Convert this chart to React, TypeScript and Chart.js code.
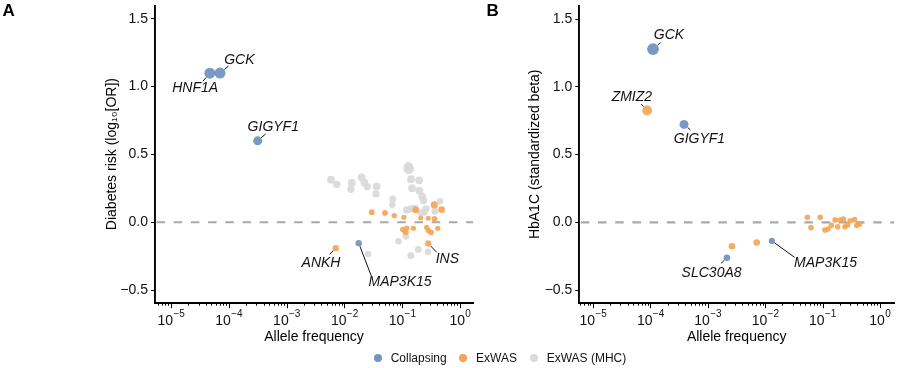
import React, { useEffect, useRef } from 'react';
import { Chart, registerables } from 'chart.js';

Chart.register(...registerables);

const FONT = '"Liberation Sans", Arial, Helvetica, sans-serif';

// ---------- Panel A: Diabetes risk ----------
const A_COLLAPSING_GENES = ['HNF1A', 'GCK', 'GIGYF1', 'MAP3K15'];
const A_COLLAPSING_AF = [4.7e-5, 7.05e-5, 3.16e-4, 0.0177];
const A_COLLAPSING_EFFECT = [1.099, 1.1, 0.6, -0.154];

const A_EXWAS_GENES = ['', '', '', '', '', '', '', '', '', '', '', '', '', '', '', '', '', '', 'INS', 'ANKH'];
const A_EXWAS_AF = [0.0297, 0.0504, 0.0729, 0.107, 0.171, 0.359, 0.482, 0.209, 0.283, 0.362, 0.103, 0.12, 0.115, 0.156, 0.265, 0.283, 0.315, 0.411, 0.283, 0.00708];
const A_EXWAS_EFFECT = [0.074, 0.069, 0.049, 0.037, 0.091, 0.128, 0.093, 0.032, 0.029, 0.025, -0.054, -0.044, -0.074, -0.044, -0.037, -0.061, -0.074, -0.044, -0.157, -0.191];

const A_MHC_AF = [0.00586, 0.00736, 0.0134, 0.013, 0.0199, 0.0221, 0.0249, 0.0362, 0.0352, 0.13, 0.128, 0.142, 0.197, 0.148, 0.198, 0.222, 0.234, 0.0685, 0.0675, 0.451, 0.12, 0.142, 0.166, 0.258, 0.241, 0.369, 0.21, 0.0863, 0.116, 0.19, 0.141, 0.279, 0.0256];
const A_MHC_EFFECT = [0.314, 0.279, 0.29, 0.243, 0.331, 0.294, 0.263, 0.263, 0.209, 0.395, 0.41, 0.318, 0.309, 0.251, 0.233, 0.189, 0.16, 0.172, 0.129, 0.154, 0.091, 0.099, 0.101, 0.099, 0.074, 0.081, 0.07, -0.14, -0.104, -0.201, -0.245, -0.218, -0.234];

// ---------- Panel B: HbA1C ----------
const B_COLLAPSING_GENES = ['GCK', 'GIGYF1', 'SLC30A8', 'MAP3K15'];
const B_COLLAPSING_AF = [1.11e-4, 3.85e-4, 0.00216, 0.0131];
const B_COLLAPSING_EFFECT = [1.279, 0.723, -0.262, -0.137];

const B_EXWAS_GENES = ['ZMIZ2', '', '', '', '', '', '', '', '', '', '', '', '', '', '', '', '', '', ''];
const B_EXWAS_AF = [8.77e-5, 0.00264, 0.00712, 0.0545, 0.063, 0.0912, 0.11, 0.124, 0.143, 0.166, 0.184, 0.202, 0.23, 0.246, 0.274, 0.304, 0.362, 0.396, 0.441];
const B_EXWAS_EFFECT = [0.826, -0.176, -0.149, 0.037, -0.039, 0.037, -0.056, -0.049, -0.022, 0.018, -0.032, 0.018, 0.025, -0.032, -0.017, 0.012, 0.02, -0.024, -0.012];

const B_MHC_AF: number[] = [];
const B_MHC_EFFECT: number[] = [];

// ---------- Marker sizes (style, kept separate from values) ----------
const A_COLLAPSING_RADIUS = [5.5, 5.5, 4.5, 3.2];
const A_EXWAS_RADIUS = [2.9, 2.9, 2.7, 2.6, 3.3, 3.6, 3.3, 2.5, 2.5, 2.9, 2.9, 2.7, 2.9, 2.6, 2.6, 2.7, 2.9, 2.6, 3.2, 3.2];
const A_MHC_RADIUS = [3.9, 3.7, 3.9, 3.7, 3.9, 3.9, 3.7, 3.9, 3.7, 5.3, 4.6, 3.9, 3.9, 3.9, 3.9, 3.9, 3.7, 3.5, 3.3, 3.3, 3.7, 3.7, 3.7, 3.7, 3.5, 3.5, 3.5, 3.3, 3.3, 3.5, 3.5, 3.3, 3.3];
const B_COLLAPSING_RADIUS = [5.9, 4.5, 3.3, 3.1];
const B_EXWAS_RADIUS = [4.9, 3.3, 3.3, 2.8, 2.8, 2.8, 2.8, 2.8, 2.8, 2.8, 2.8, 2.8, 2.8, 2.8, 2.8, 2.8, 2.8, 2.8, 2.8];
const B_MHC_RADIUS: number[] = [];

// ---------- Axes ----------
const Y_TICKS = [-0.5, 0, 0.5, 1, 1.5];
const X_TICK_EXPONENTS = [-5, -4, -3, -2, -1, 0];
const SERIES_NAMES = ['Collapsing', 'ExWAS', 'ExWAS (MHC)'];
const SERIES_COLORS = ['rgba(108,145,190,0.92)', 'rgba(245,160,78,0.88)', 'rgba(217,217,217,0.92)'];
const LEGEND_COLORS = ['#7095c0', '#f5a455', '#dcdcdc'];

// label annotation offsets (pixels, relative to point): text centre and leader-line end
const A_LABELS = [
  { ds: 0, gene: 'HNF1A', tx: -14.7, ty: 15, lx: -7, ly: 8 },
  { ds: 0, gene: 'GCK', tx: 19.3, ty: -13.3, lx: 8.5, ly: -7 },
  { ds: 0, gene: 'GIGYF1', tx: 15.6, ty: -13.3, lx: 8, ly: -7 },
  { ds: 0, gene: 'MAP3K15', tx: 41.3, ty: 39, lx: 13, ly: 34 },
  { ds: 1, gene: 'INS', tx: 19, ty: 15.3, lx: 8.4, ly: 8.7 },
  { ds: 1, gene: 'ANKH', tx: -14.7, ty: 15, lx: -6, ly: 6 },
];
const B_LABELS = [
  { ds: 0, gene: 'GCK', tx: 16, ty: -13.7, lx: 7.5, ly: -6.5 },
  { ds: 0, gene: 'GIGYF1', tx: 15.4, ty: 14.4, lx: 6.5, ly: 5.5 },
  { ds: 0, gene: 'SLC30A8', tx: -15.4, ty: 15, lx: -5.8, ly: 5.4 },
  { ds: 0, gene: 'MAP3K15', tx: 53.7, ty: 22.4, lx: 22.7, ly: 16.4 },
  { ds: 1, gene: 'ZMIZ2', tx: -15.3, ty: -13.6, lx: -6, ly: -6.5 },
];

type Panel = {
  letter: string;
  yTitle: string;
  width: number;
  yAxisWidth: number;
  yTitlePad: number;
  rightPad: number;
  xMinExp: number;
  xMaxExp: number;
  series: { af: number[]; eff: number[]; r: number[]; genes: string[] }[];
  labels: typeof A_LABELS;
};

const PANEL_A: Panel = {
  letter: 'A',
  yTitle: 'Diabetes risk (log\u2081\u2080[OR])',
  width: 480,
  yAxisWidth: 155,
  yTitlePad: 103.3,
  rightPad: 7,
  xMinExp: -5.277,
  xMaxExp: 0.225,
  series: [
    { af: A_COLLAPSING_AF, eff: A_COLLAPSING_EFFECT, r: A_COLLAPSING_RADIUS, genes: A_COLLAPSING_GENES },
    { af: A_EXWAS_AF, eff: A_EXWAS_EFFECT, r: A_EXWAS_RADIUS, genes: A_EXWAS_GENES },
    { af: A_MHC_AF, eff: A_MHC_EFFECT, r: A_MHC_RADIUS, genes: [] },
  ],
  labels: A_LABELS,
};

const PANEL_B: Panel = {
  letter: 'B',
  yTitle: 'HbA1C (standardized beta)',
  width: 420,
  yAxisWidth: 99.3,
  yTitlePad: 46.6,
  rightPad: 2.3,
  xMinExp: -5.24,
  xMaxExp: 0.248,
  series: [
    { af: B_COLLAPSING_AF, eff: B_COLLAPSING_EFFECT, r: B_COLLAPSING_RADIUS, genes: B_COLLAPSING_GENES },
    { af: B_EXWAS_AF, eff: B_EXWAS_EFFECT, r: B_EXWAS_RADIUS, genes: B_EXWAS_GENES },
    { af: B_MHC_AF, eff: B_MHC_EFFECT, r: B_MHC_RADIUS, genes: [] },
  ],
  labels: B_LABELS,
};

const HEIGHT = 368;
const AXIS_BOTTOM = 302.7;
const fmtTick = (v: number) => v.toFixed(1).replace('-', '\u2212');

function makeChart(canvas: HTMLCanvasElement, p: Panel) {
  const panelPlugin = {
    id: 'panelExtras',
    beforeDatasetsDraw(chart: any) {
      const { ctx, chartArea } = chart;
      const y0 = chart.scales.y.getPixelForValue(0);
      ctx.save();
      ctx.strokeStyle = '#a9a9a9';
      ctx.lineWidth = 2.2;
      ctx.setLineDash([8.5, 8.7]);
      ctx.beginPath();
      ctx.moveTo(chartArea.left + 1.5, y0);
      ctx.lineTo(chartArea.right, y0);
      ctx.stroke();
      ctx.restore();
    },
    afterDatasetsDraw(chart: any) {
      const { ctx } = chart;
      ctx.save();
      ctx.font = `italic 14px ${FONT}`;
      ctx.textAlign = 'center';
      ctx.textBaseline = 'middle';
      ctx.fillStyle = '#111';
      ctx.strokeStyle = '#111';
      ctx.lineWidth = 1;
      for (const lab of p.labels) {
        const s = p.series[lab.ds];
        const i = s.genes.indexOf(lab.gene);
        if (i < 0) continue;
        const el = chart.getDatasetMeta(lab.ds).data[i];
        const cx = el.x, cy = el.y;
        const r = s.r[i];
        const len = Math.hypot(lab.lx, lab.ly);
        const ux = lab.lx / len, uy = lab.ly / len;
        ctx.beginPath();
        ctx.moveTo(cx + ux * (r + 0.3), cy + uy * (r + 0.3));
        ctx.lineTo(cx + lab.lx, cy + lab.ly);
        ctx.stroke();
        ctx.fillText(lab.gene, cx + lab.tx, cy + lab.ty);
      }
      ctx.restore();
    },
    afterDraw(chart: any) {
      const { ctx, chartArea } = chart;
      const xs = chart.scales.x;
      const yb = chartArea.bottom;
      ctx.save();
      ctx.strokeStyle = '#000';
      ctx.lineWidth = 1;
      for (let e = -7; e <= 1; e++) {
        for (let m = 1; m <= 9; m++) {
          const v = m * Math.pow(10, e);
          if (v < xs.min || v > xs.max) continue;
          const px = Math.round(xs.getPixelForValue(v)) + 0.5;
          const len = m === 1 ? 5.5 : 3;
          ctx.beginPath();
          ctx.moveTo(px, yb);
          ctx.lineTo(px, yb + len);
          ctx.stroke();
        }
      }
      ctx.fillStyle = '#111';
      ctx.textBaseline = 'alphabetic';
      ctx.textAlign = 'left';
      for (const e of X_TICK_EXPONENTS) {
        const px = xs.getPixelForValue(Math.pow(10, e));
        const expText = e < 0 ? '\u2212' + String(-e) : String(e);
        ctx.font = `14px ${FONT}`;
        const w10 = ctx.measureText('10').width;
        ctx.font = `10px ${FONT}`;
        const wE = ctx.measureText(expText).width;
        const x0 = px - (w10 + wE) / 2;
        ctx.font = `14px ${FONT}`;
        ctx.fillText('10', x0, 324.5);
        ctx.font = `10px ${FONT}`;
        ctx.fillText(expText, x0 + w10 + 0.3, 316.5);
      }
      // panel letter
      ctx.font = `bold 17px ${FONT}`;
      ctx.fillStyle = '#000';
      ctx.fillText(p.letter, p.letter === 'A' ? 2.5 : 6.5, 15.5);
      ctx.restore();
    },
  };

  return new Chart(canvas, {
    type: 'scatter',
    data: {
      datasets: p.series.map((s, k) => ({
        label: SERIES_NAMES[k],
        data: s.af.map((a, i) => ({ x: a, y: s.eff[i] })),
        pointRadius: s.r,
        pointHoverRadius: s.r,
        backgroundColor: SERIES_COLORS[k],
        borderWidth: 0,
        pointBorderWidth: 0,
      })),
    },
    options: {
      animation: false,
      responsive: false,
      devicePixelRatio: 1,
      layout: { padding: { left: 0, top: 5, right: p.rightPad, bottom: 0 } },
      plugins: { legend: { display: false }, tooltip: { enabled: false } },
      events: [],
      scales: {
        x: {
          type: 'logarithmic',
          min: Math.pow(10, p.xMinExp),
          max: Math.pow(10, p.xMaxExp),
          ticks: { display: false },
          grid: { display: false },
          border: { display: true, color: '#000', width: 1.9 },
          title: {
            display: true,
            text: 'Allele frequency',
            color: '#000',
            font: { family: FONT, size: 14, lineHeight: 1.2 },
            padding: { top: 0, bottom: 22.9 },
          },
          afterFit: (s: any) => {
            s.height = HEIGHT - AXIS_BOTTOM;
            s.paddingLeft = 0;
            s.paddingRight = 0;
          },
        },
        y: {
          type: 'linear',
          min: -0.593,
          max: 1.598,
          afterBuildTicks: (s: any) => {
            s.ticks = Y_TICKS.map((v) => ({ value: v }));
          },
          ticks: {
            callback: (v: any) => fmtTick(Number(v)),
            color: '#111',
            font: { family: FONT, size: 14 },
            padding: 3,
          },
          grid: { display: true, drawOnChartArea: false, drawTicks: true, tickLength: 4, color: '#000', lineWidth: 1 },
          border: { display: true, color: '#000', width: 1.9 },
          title: {
            display: true,
            text: p.yTitle,
            color: '#000',
            font: { family: FONT, size: 14, lineHeight: 1.2 },
            padding: { top: p.yTitlePad, bottom: 0 },
          },
          afterFit: (s: any) => {
            s.width = p.yAxisWidth;
            s.paddingTop = 0;
            s.paddingBottom = 0;
          },
        },
      },
    } as any,
    plugins: [panelPlugin],
  });
}

export default function App() {
  const refA = useRef<HTMLCanvasElement>(null);
  const refB = useRef<HTMLCanvasElement>(null);

  useEffect(() => {
    const a = makeChart(refA.current!, PANEL_A);
    const b = makeChart(refB.current!, PANEL_B);
    return () => {
      a.destroy();
      b.destroy();
    };
  }, []);

  const legendItems = [
    { cx: 378.3, tx: 390.7 },
    { cx: 463.3, tx: 476 },
    { cx: 534.3, tx: 546.7 },
  ];

  return (
    <div style={{ position: 'fixed', left: 0, top: 0, width: 900, height: HEIGHT, background: '#fff', overflow: 'hidden' }}>
      <canvas ref={refA} width={PANEL_A.width} height={HEIGHT} style={{ position: 'absolute', left: 0, top: 0, width: PANEL_A.width, height: HEIGHT }} />
      <canvas ref={refB} width={PANEL_B.width} height={HEIGHT} style={{ position: 'absolute', left: PANEL_A.width, top: 0, width: PANEL_B.width, height: HEIGHT }} />
      {legendItems.map((it, k) => (
        <React.Fragment key={k}>
          <div
            style={{
              position: 'absolute',
              left: it.cx - 4,
              top: 358 - 4,
              width: 8,
              height: 8,
              borderRadius: '50%',
              background: LEGEND_COLORS[k],
            }}
          />
          <div
            style={{
              position: 'absolute',
              left: it.tx,
              top: 351,
              lineHeight: '14px',
              fontSize: 12,
              fontFamily: FONT,
              color: '#111',
              whiteSpace: 'nowrap',
            }}
          >
            {SERIES_NAMES[k]}
          </div>
        </React.Fragment>
      ))}
    </div>
  );
}
